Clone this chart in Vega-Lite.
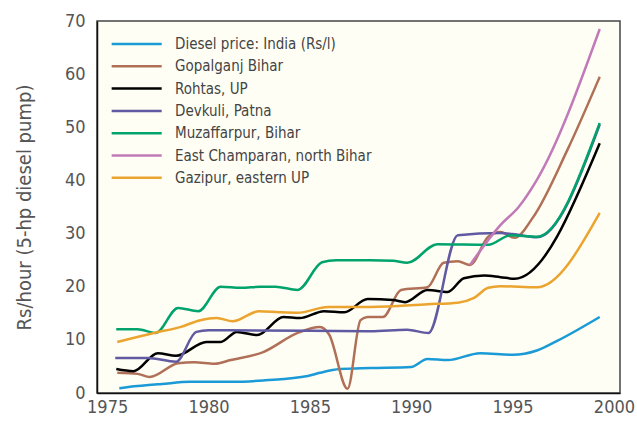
{
  "$schema": "https://vega.github.io/schema/vega-lite/v6.json",
  "width": 523,
  "height": 372,
  "autosize": {"type": "none"},
  "padding": {"left": 97, "top": 21, "right": 17, "bottom": 31},
  "background": "white",
  "config": {
    "font": "Liberation Sans Narrow, DejaVu Sans Condensed, sans-serif",
    "view": {"stroke": "#444", "strokeWidth": 1.5, "fill": "#fffef4"}
  },
  "data": {"values": [
    {"s": "Diesel price: India (Rs/l)", "x": 1975.6, "y": 0.9},
    {"s": "Diesel price: India (Rs/l)", "x": 1976.5, "y": 1.3},
    {"s": "Diesel price: India (Rs/l)", "x": 1977.7, "y": 1.7},
    {"s": "Diesel price: India (Rs/l)", "x": 1979.1, "y": 2.1},
    {"s": "Diesel price: India (Rs/l)", "x": 1981.2, "y": 2.1},
    {"s": "Diesel price: India (Rs/l)", "x": 1982.8, "y": 2.4},
    {"s": "Diesel price: India (Rs/l)", "x": 1984.9, "y": 3.2},
    {"s": "Diesel price: India (Rs/l)", "x": 1985.5, "y": 3.8},
    {"s": "Diesel price: India (Rs/l)", "x": 1986.5, "y": 4.5},
    {"s": "Diesel price: India (Rs/l)", "x": 1988.0, "y": 4.7},
    {"s": "Diesel price: India (Rs/l)", "x": 1990.0, "y": 4.9},
    {"s": "Diesel price: India (Rs/l)", "x": 1990.8, "y": 6.4},
    {"s": "Diesel price: India (Rs/l)", "x": 1991.8, "y": 6.2},
    {"s": "Diesel price: India (Rs/l)", "x": 1993.4, "y": 7.5},
    {"s": "Diesel price: India (Rs/l)", "x": 1995.0, "y": 7.2},
    {"s": "Diesel price: India (Rs/l)", "x": 1996.2, "y": 8.0},
    {"s": "Diesel price: India (Rs/l)", "x": 1997.2, "y": 9.8},
    {"s": "Diesel price: India (Rs/l)", "x": 1999.3, "y": 14.3},

    {"s": "Gopalganj Bihar", "x": 1975.5, "y": 3.8},
    {"s": "Gopalganj Bihar", "x": 1976.5, "y": 3.6},
    {"s": "Gopalganj Bihar", "x": 1977.1, "y": 3.0},
    {"s": "Gopalganj Bihar", "x": 1978.5, "y": 5.6},
    {"s": "Gopalganj Bihar", "x": 1979.3, "y": 5.8},
    {"s": "Gopalganj Bihar", "x": 1980.3, "y": 5.5},
    {"s": "Gopalganj Bihar", "x": 1981.1, "y": 6.2},
    {"s": "Gopalganj Bihar", "x": 1982.7, "y": 7.7},
    {"s": "Gopalganj Bihar", "x": 1984.4, "y": 11.3},
    {"s": "Gopalganj Bihar", "x": 1985.5, "y": 12.4},
    {"s": "Gopalganj Bihar", "x": 1985.95, "y": 11.0},
    {"s": "Gopalganj Bihar", "x": 1986.86, "y": 0.8},
    {"s": "Gopalganj Bihar", "x": 1987.5, "y": 13.7},
    {"s": "Gopalganj Bihar", "x": 1987.85, "y": 14.3},
    {"s": "Gopalganj Bihar", "x": 1988.6, "y": 14.3},
    {"s": "Gopalganj Bihar", "x": 1989.5, "y": 19.4},
    {"s": "Gopalganj Bihar", "x": 1990.8, "y": 19.9},
    {"s": "Gopalganj Bihar", "x": 1991.6, "y": 24.5},
    {"s": "Gopalganj Bihar", "x": 1992.3, "y": 24.8},
    {"s": "Gopalganj Bihar", "x": 1992.9, "y": 24.1},
    {"s": "Gopalganj Bihar", "x": 1993.8, "y": 29.4},
    {"s": "Gopalganj Bihar", "x": 1994.4, "y": 30.3},
    {"s": "Gopalganj Bihar", "x": 1995.1, "y": 29.2},
    {"s": "Gopalganj Bihar", "x": 1996.0, "y": 33.0},
    {"s": "Gopalganj Bihar", "x": 1997.7, "y": 45.7},
    {"s": "Gopalganj Bihar", "x": 1999.3, "y": 59.5},

    {"s": "Rohtas, UP", "x": 1975.45, "y": 4.5},
    {"s": "Rohtas, UP", "x": 1976.3, "y": 4.1},
    {"s": "Rohtas, UP", "x": 1977.5, "y": 7.5},
    {"s": "Rohtas, UP", "x": 1978.4, "y": 7.0},
    {"s": "Rohtas, UP", "x": 1979.9, "y": 9.6},
    {"s": "Rohtas, UP", "x": 1980.6, "y": 9.6},
    {"s": "Rohtas, UP", "x": 1981.4, "y": 11.5},
    {"s": "Rohtas, UP", "x": 1982.4, "y": 10.9},
    {"s": "Rohtas, UP", "x": 1983.7, "y": 14.3},
    {"s": "Rohtas, UP", "x": 1984.5, "y": 14.1},
    {"s": "Rohtas, UP", "x": 1985.7, "y": 15.4},
    {"s": "Rohtas, UP", "x": 1986.7, "y": 15.2},
    {"s": "Rohtas, UP", "x": 1987.85, "y": 17.7},
    {"s": "Rohtas, UP", "x": 1989.1, "y": 17.5},
    {"s": "Rohtas, UP", "x": 1989.7, "y": 17.1},
    {"s": "Rohtas, UP", "x": 1990.8, "y": 19.4},
    {"s": "Rohtas, UP", "x": 1991.8, "y": 19.0},
    {"s": "Rohtas, UP", "x": 1992.6, "y": 21.6},
    {"s": "Rohtas, UP", "x": 1993.6, "y": 22.1},
    {"s": "Rohtas, UP", "x": 1994.4, "y": 21.8},
    {"s": "Rohtas, UP", "x": 1995.1, "y": 21.5},
    {"s": "Rohtas, UP", "x": 1999.3, "y": 47.0},

    {"s": "Devkuli, Patna", "x": 1975.4, "y": 6.6},
    {"s": "Devkuli, Patna", "x": 1977.0, "y": 6.6},
    {"s": "Devkuli, Patna", "x": 1978.4, "y": 5.9},
    {"s": "Devkuli, Patna", "x": 1979.4, "y": 11.5},
    {"s": "Devkuli, Patna", "x": 1980.0, "y": 11.8},
    {"s": "Devkuli, Patna", "x": 1985.0, "y": 11.7},
    {"s": "Devkuli, Patna", "x": 1988.0, "y": 11.6},
    {"s": "Devkuli, Patna", "x": 1989.8, "y": 11.9},
    {"s": "Devkuli, Patna", "x": 1990.85, "y": 11.3},
    {"s": "Devkuli, Patna", "x": 1992.3, "y": 29.7},
    {"s": "Devkuli, Patna", "x": 1994.4, "y": 30.1},
    {"s": "Devkuli, Patna", "x": 1995.0, "y": 29.9},
    {"s": "Devkuli, Patna", "x": 1996.2, "y": 29.3},
    {"s": "Devkuli, Patna", "x": 1999.3, "y": 50.5},

    {"s": "Muzaffarpur, Bihar", "x": 1975.45, "y": 12.0},
    {"s": "Muzaffarpur, Bihar", "x": 1976.5, "y": 12.0},
    {"s": "Muzaffarpur, Bihar", "x": 1977.4, "y": 11.3},
    {"s": "Muzaffarpur, Bihar", "x": 1978.5, "y": 16.0},
    {"s": "Muzaffarpur, Bihar", "x": 1979.5, "y": 15.4},
    {"s": "Muzaffarpur, Bihar", "x": 1980.6, "y": 20.0},
    {"s": "Muzaffarpur, Bihar", "x": 1981.6, "y": 19.8},
    {"s": "Muzaffarpur, Bihar", "x": 1982.6, "y": 20.0},
    {"s": "Muzaffarpur, Bihar", "x": 1983.3, "y": 20.0},
    {"s": "Muzaffarpur, Bihar", "x": 1984.4, "y": 19.4},
    {"s": "Muzaffarpur, Bihar", "x": 1985.6, "y": 24.6},
    {"s": "Muzaffarpur, Bihar", "x": 1986.3, "y": 25.0},
    {"s": "Muzaffarpur, Bihar", "x": 1988.0, "y": 25.0},
    {"s": "Muzaffarpur, Bihar", "x": 1989.1, "y": 24.9},
    {"s": "Muzaffarpur, Bihar", "x": 1989.8, "y": 24.5},
    {"s": "Muzaffarpur, Bihar", "x": 1991.3, "y": 28.0},
    {"s": "Muzaffarpur, Bihar", "x": 1993.8, "y": 27.9},
    {"s": "Muzaffarpur, Bihar", "x": 1994.9, "y": 29.7},
    {"s": "Muzaffarpur, Bihar", "x": 1996.2, "y": 29.4},
    {"s": "Muzaffarpur, Bihar", "x": 1999.3, "y": 50.8},

    {"s": "East Champaran, north Bihar", "x": 1992.9, "y": 24.1},
    {"s": "East Champaran, north Bihar", "x": 1994.4, "y": 31.6},
    {"s": "East Champaran, north Bihar", "x": 1995.3, "y": 35.0},
    {"s": "East Champaran, north Bihar", "x": 1996.2, "y": 40.1},
    {"s": "East Champaran, north Bihar", "x": 1999.3, "y": 68.5},

    {"s": "Gazipur, eastern UP", "x": 1975.5, "y": 9.6},
    {"s": "Gazipur, eastern UP", "x": 1977.3, "y": 11.3},
    {"s": "Gazipur, eastern UP", "x": 1978.6, "y": 12.4},
    {"s": "Gazipur, eastern UP", "x": 1979.6, "y": 13.7},
    {"s": "Gazipur, eastern UP", "x": 1980.4, "y": 14.1},
    {"s": "Gazipur, eastern UP", "x": 1981.2, "y": 13.5},
    {"s": "Gazipur, eastern UP", "x": 1982.5, "y": 15.4},
    {"s": "Gazipur, eastern UP", "x": 1983.5, "y": 15.2},
    {"s": "Gazipur, eastern UP", "x": 1984.4, "y": 15.1},
    {"s": "Gazipur, eastern UP", "x": 1985.9, "y": 16.2},
    {"s": "Gazipur, eastern UP", "x": 1988.0, "y": 16.2},
    {"s": "Gazipur, eastern UP", "x": 1990.8, "y": 16.7},
    {"s": "Gazipur, eastern UP", "x": 1992.3, "y": 17.0},
    {"s": "Gazipur, eastern UP", "x": 1993.1, "y": 17.9},
    {"s": "Gazipur, eastern UP", "x": 1993.8, "y": 19.8},
    {"s": "Gazipur, eastern UP", "x": 1994.4, "y": 20.1},
    {"s": "Gazipur, eastern UP", "x": 1996.2, "y": 19.9},
    {"s": "Gazipur, eastern UP", "x": 1999.3, "y": 33.9}
  ]},
  "mark": {"type": "line", "interpolate": "monotone", "strokeWidth": 2.5},
  "encoding": {
    "x": {
      "field": "x", "type": "quantitative",
      "scale": {"domain": [1974.5, 2000.3], "nice": false, "zero": false},
      "axis": {
        "values": [1975, 1980, 1985, 1990, 1995, 2000], "format": "d",
        "title": null, "grid": false, "ticks": false, "domainColor": "#111", "domainWidth": 1.5,
        "labelFontSize": 18, "labelColor": "#555", "labelPadding": 5, "labelFlush": false
      }
    },
    "y": {
      "field": "y", "type": "quantitative",
      "scale": {"domain": [0, 70], "nice": false},
      "axis": {
        "values": [0, 10, 20, 30, 40, 50, 60, 70],
        "title": "Rs/hour (5-hp diesel pump)", "titleFontSize": 20, "titleFontWeight": "normal",
        "titleColor": "#555", "titlePadding": 30,
        "grid": false, "ticks": false, "domainColor": "#111", "domainWidth": 1.5,
        "labelFontSize": 18, "labelColor": "#555", "labelPadding": 12, "labelFlush": false
      }
    },
    "color": {
      "field": "s", "type": "nominal", "sort": null,
      "scale": {
        "domain": ["Diesel price: India (Rs/l)", "Gopalganj Bihar", "Rohtas, UP", "Devkuli, Patna", "Muzaffarpur, Bihar", "East Champaran, north Bihar", "Gazipur, eastern UP"],
        "range": ["#1a9ad6", "#b07057", "#000000", "#5f5aa2", "#00a36c", "#c07ab8", "#eaa42f"]
      },
      "legend": {
        "title": null, "orient": "top-left", "offset": 13, "padding": 0,
        "symbolType": "M-1,0H5", "symbolSize": 278, "symbolStrokeWidth": 2.5,
        "labelFontSize": 15, "labelColor": "#444", "labelOffset": 45, "labelLimit": 400, "rowPadding": 4.3
      }
    }
  }
}
